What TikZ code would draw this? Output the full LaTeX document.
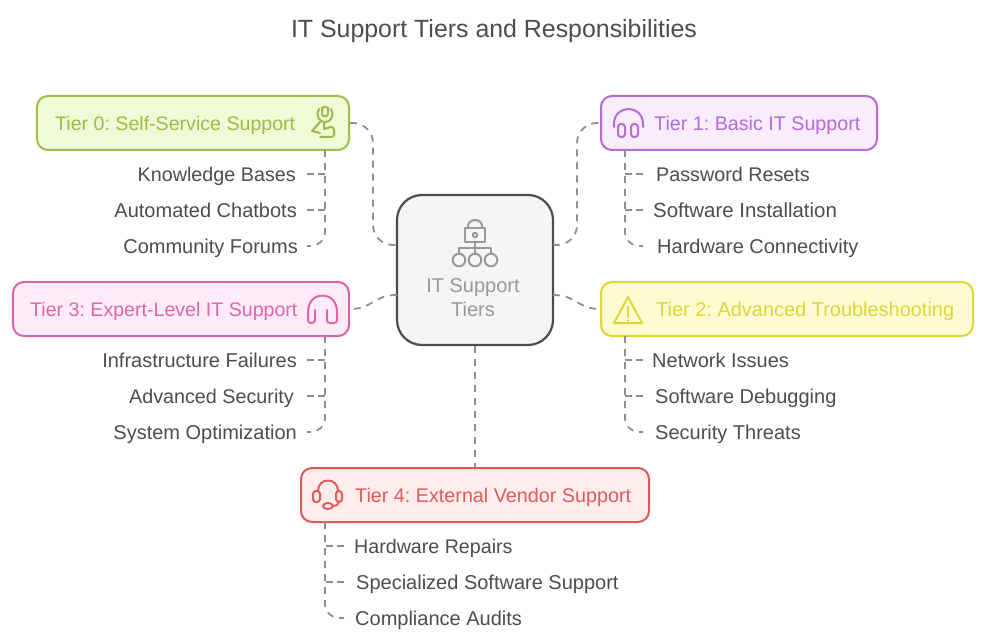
\documentclass[tikz,border=0pt]{standalone}
\usepackage{fontspec}
\setmainfont{Liberation Sans}
\usetikzlibrary{calc}
\frenchspacing
\definecolor{cg}{HTML}{9DBF4C}\definecolor{fg}{HTML}{EFFBD6}\definecolor{tg}{HTML}{9ABB45}
\definecolor{cp}{HTML}{B56AD8}\definecolor{fp}{HTML}{F9ECFD}\definecolor{tp}{HTML}{B56AD8}
\definecolor{cy}{HTML}{DED636}\definecolor{fy}{HTML}{FDFBD0}\definecolor{ty}{HTML}{DDD53A}
\definecolor{cm}{HTML}{DC63A8}\definecolor{fm}{HTML}{FDECF7}\definecolor{tm}{HTML}{E065AC}
\definecolor{cr}{HTML}{D85C5C}\definecolor{fr}{HTML}{FEEDEC}\definecolor{tr}{HTML}{E25A5A}
\definecolor{ink}{HTML}{4D4D4D}\definecolor{dashc}{HTML}{8E8E8E}\definecolor{centc}{HTML}{999999}
\tikzset{
  x=1bp,y=-1bp,
  fs/.style={font=\fontsize{#1bp}{22bp}\selectfont},
  tierbox/.style={draw=#1,line width=2bp,rounded corners=11bp,minimum height=54bp,inner sep=0pt},
  tierlabel/.style={text=#1,fs=19.9,anchor=west,inner xsep=0pt,inner ysep=0pt,text height=16bp,text depth=2bp},
  itemr/.style={text=ink,fs=20,anchor=east,inner ysep=0pt,inner xsep=#1,text height=17bp,text depth=2bp},
  iteml/.style={text=ink,fs=20,anchor=west,inner ysep=0pt,inner xsep=#1,text height=17bp,text depth=2bp},
  conn/.style={draw=dashc,line width=1.8bp,dash pattern=on 7bp off 6bp,rounded corners=#1},
  conn/.default=18bp,
  branch/.style={draw=dashc,line width=1.8bp,dash pattern=on 7bp off 4bp},
  icon/.style={draw=#1,line width=2bp,line cap=round,line join=round,fill=none},
}
\begin{document}
\begin{tikzpicture}
\useasboundingbox (0,0) rectangle (986,642);
\fill[white] (0,0) rectangle (986,642);
\node[text=ink,font=\fontsize{24.9bp}{26bp}\selectfont] (title) at (494,31) {IT Support Tiers and Responsibilities};

% centre box and connector end points on it
\node[draw=ink,line width=2.2bp,fill=black!4,rounded corners=25bp,minimum width=156bp,minimum height=150bp,inner sep=0pt] (hub) at (475,270) {};
\coordinate (hubA) at (397,245);
\coordinate (hubB) at (553,245);
\coordinate (hubC) at (397,295);
\coordinate (hubD) at (553,295);

% tier boxes
\node[tierbox=cg,fill=fg,minimum width=312bp] (t0) at (193,123) {};
\node[tierbox=cp,fill=fp,minimum width=276bp] (t1) at (739,123) {};
\node[tierbox=cy,fill=fy,minimum width=372bp] (t2) at (787,309) {};
\node[tierbox=cm,fill=fm,minimum width=336bp] (t3) at (181,309) {};
\node[tierbox=cr,fill=fr,minimum width=348bp] (t4) at (475,495) {};

\node[tierlabel=tg,fs=19.6] (l0) at (55,123.5) {Tier 0: Self-Service Support};
\node[tierlabel=tp,fs=19.7] (l1) at (654,123.5) {Tier 1: Basic IT Support};
\node[tierlabel=ty,fs=19.95] (l2) at (656,309.5) {Tier 2: Advanced Troubleshooting};
\node[tierlabel=tm,fs=19.6] (l3) at (30,309.5) {Tier 3: Expert-Level IT Support};
\node[tierlabel=tr,fs=19.75] (l4) at (355,495.5) {Tier 4: External Vendor Support};

\node[text=centc,font=\fontsize{20bp}{24bp}\selectfont,align=center] (hubl) at (473,298) {IT Support\\Tiers};

% items
\node[itemr=11bp,fs=19.75] (a0) at (307,174) {Knowledge Bases};
\node[itemr=10bp] (a1) at (307,210) {Automated Chatbots};
\node[itemr=9bp]  (a2) at (307,246) {Community Forums};
\node[iteml=13bp,fs=19.75] (b0) at (643,174) {Password Resets};
\node[iteml=10bp,fs=20.4] (b1) at (643,210) {Software Installation};
\node[iteml=14bp] (b2) at (643,246) {Hardware Connectivity};
\node[iteml=9bp]  (c0) at (643,360) {Network Issues};
\node[iteml=12bp] (c1) at (643,396) {Software Debugging};
\node[iteml=12bp] (c2) at (643,432) {Security Threats};
\node[itemr=10bp] (d0) at (307,360) {Infrastructure Failures};
\node[itemr=13bp,fs=19.75] (d1) at (307,396) {Advanced Security};
\node[itemr=10bp] (d2) at (307,432) {System Optimization};
\node[iteml=10bp,fs=19.65] (e0) at (344,546) {Hardware Repairs};
\node[iteml=12bp] (e1) at (344,582) {Specialized Software Support};
\node[iteml=11bp] (e2) at (344,618) {Compliance Audits};

% hub connectors
\draw[conn=20bp] (t0.east) -- (373,123) -- (373,245) -- (hubA);
\draw[conn=20bp] (hubB) -- (577,245) -- (577,123) -- (t1.west);
\draw[conn] (hubC) .. controls (373,295) and (373,309) .. (t3.east);
\draw[conn] (hubD) .. controls (577,295) and (577,309) .. (t2.west);
\draw[conn] (hub.south) -- (t4.north);

% item connectors
\draw[conn=14bp] (325,150) -- (325,246) -- (a2.east);
\draw[branch] (a0.east) -- (325,174);
\draw[branch] (a1.east) -- (325,210);
\draw[conn=14bp] (625,150) -- (625,246) -- (b2.west);
\draw[branch] (b0.west) -- (625,174);
\draw[branch] (b1.west) -- (625,210);
\draw[conn=14bp] (625,336) -- (625,432) -- (c2.west);
\draw[branch] (c0.west) -- (625,360);
\draw[branch] (c1.west) -- (625,396);
\draw[conn=14bp] (325,336) -- (325,432) -- (d2.east);
\draw[branch] (d0.east) -- (325,360);
\draw[branch] (d1.east) -- (325,396);
\draw[conn=14bp] (325,522) -- (325,618) -- (e2.west);
\draw[branch] (e0.west) -- (325,546);
\draw[branch] (e1.west) -- (325,582);

% hub icon
\draw[icon=centc] (465,228) rectangle (485,242);
\draw[icon=centc] (468,228) -- (468,226) arc[start angle=180,end angle=0,x radius=7,y radius=-6] -- (482,228);
\draw[icon=centc] (475,235) circle[radius=2.2];
\draw[icon=centc] (475,242) -- (475,254);
\draw[icon=centc] (459,254) -- (459,248) -- (491,248) -- (491,254);
\draw[icon=centc] (459,260) circle[radius=6.3];
\draw[icon=centc] (475,260) circle[radius=6.3];
\draw[icon=centc] (491,260) circle[radius=6.3];

% tier 0 icon
\draw[icon=tg] (319,109) .. controls (315,117) and (320,122) .. (325,122) .. controls (330,122) and (335,117) .. (331,109);
\draw[icon=tg] (322,114) .. controls (322,117) and (328,117) .. (328,114) -- (328,108) .. controls (326,106) and (324,106) .. (322,108) -- cycle;
\draw[icon=tg] (312,131) -- (320,122) (324,122) -- (324,129) -- (331,127) .. controls (333,127) and (334,128) .. (334,130) -- (334,135) .. controls (334,136) and (333,137) .. (331,137) -- (320,137);
\draw[icon=tg] (312,131) -- (320,133);

% tier 1 icon
\draw[icon=tp] (614,127) -- (614,124) .. controls (614,104) and (643,104) .. (643,124) -- (643,127);
\draw[icon=tp,rounded corners=3bp] (618,124) rectangle (625,137);
\draw[icon=tp,rounded corners=3bp] (631,124) rectangle (638,137);

% tier 2 icon
\draw[icon=ty] (628,297) -- (642,323) -- (614,323) -- cycle;
\draw[icon=ty] (628,307) -- (628,317);
\draw[icon=ty] (628,320.5) -- (628,320.6);

% tier 3 icon
\draw[icon=tm] (308,320) -- (308,312) .. controls (308,290) and (337,290) .. (337,312) -- (337,320) .. controls (337,322) and (336,323) .. (334,323) -- (330,323) .. controls (328,323) and (327,322) .. (327,320) -- (327,310);
\draw[icon=tm] (308,320) .. controls (308,322) and (309,323) .. (311,323) .. controls (314,323) and (315,322) .. (315,320) -- (315,310);

% tier 4 icon
\draw[icon=tr] (318,491) .. controls (318,477) and (338,477) .. (338,491);
\draw[icon=tr,rounded corners=3bp] (313,491) rectangle (320,502);
\draw[icon=tr,rounded corners=3bp] (336,491) rectangle (342,502);
\draw[icon=tr] (339,502) .. controls (338,505) and (336,506) .. (333,506);
\draw[icon=tr] (328,506) ellipse[x radius=5,y radius=3];
\end{tikzpicture}
\end{document}
